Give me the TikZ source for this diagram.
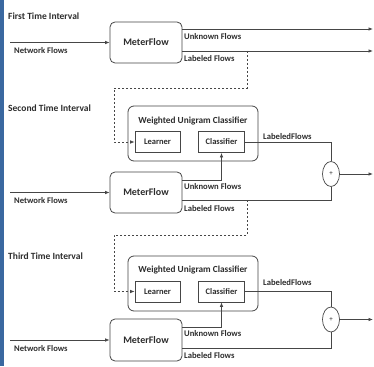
\documentclass[tikz,border=0pt]{standalone}
\usepackage{fontspec}
\setmainfont{Carlito}
\usetikzlibrary{arrows.meta,shapes.geometric}
\definecolor{edgeblue}{RGB}{58,104,160}
\definecolor{ink}{RGB}{45,45,45}
\definecolor{wire}{RGB}{70,70,70}
\begin{document}
\begin{tikzpicture}[x=1pt,y=-1pt,
  every node/.style={text=ink,font=\bfseries},
  heading/.style={anchor=west,inner sep=0pt,font=\bfseries\fontsize{9.5}{11}\selectfont},
  flowlabel/.style={anchor=west,inner sep=0pt,font=\bfseries\fontsize{8.6}{10}\selectfont},
  meterbox/.style={draw=wire,line width=0.8pt,rounded corners=5pt,minimum width=72pt,minimum height=41pt,inner sep=0pt,font=\bfseries\fontsize{10}{12}\selectfont},
  classbox/.style={draw=wire,line width=0.8pt,rounded corners=6pt,minimum width=130pt,minimum height=55pt,inner sep=0pt},
  boxtitle/.style={inner sep=0pt,font=\bfseries\fontsize{9.3}{11}\selectfont},
  innerbox/.style={draw=wire,line width=0.8pt,minimum height=21pt,inner sep=0pt,font=\bfseries\fontsize{8.5}{10}\selectfont},
  summer/.style={draw=wire,line width=0.7pt,ellipse,minimum width=17pt,minimum height=25pt,inner sep=0pt,font=\fontsize{7}{8}\selectfont},
  flow/.style={draw=wire,line width=0.8pt},
  arr/.style={flow,-{Latex[length=4.5pt,width=3.6pt]}},
  feedback/.style={draw=wire,line width=0.8pt,dash pattern=on 2.4pt off 1.6pt,-{Latex[length=4.5pt,width=3.6pt]}}
]
\useasboundingbox (0,0) rectangle (374,366);
\fill[white] (0,0) rectangle (374,366);
\fill[edgeblue] (0,0) rectangle (4,366);

% ---------- first time interval ----------
\node[heading] (h1) at (8,16.5) {First Time Interval};
\node[meterbox] (mf1) at (146,42.5) {MeterFlow};
\coordinate (in1) at (10,42.5);
\coordinate (o1u) at (373,29);
\coordinate (o1l) at (373,51);
\draw[arr] (in1) -- (mf1.west);
\node[flowlabel] (nf1) at (14,51) {Network Flows};
\draw[arr] ([yshift=13.5pt]mf1.east) -- (o1u);
\draw[arr] ([yshift=-8.5pt]mf1.east) -- (o1l);
\node[flowlabel] (uf1) at (184,36.5) {Unknown Flows};
\node[flowlabel] (lf1) at (184,59) {Labeled Flows};

% ---------- second time interval ----------
\node[heading] (h2) at (8,108) {Second Time Interval};
\node[classbox] (wuc2) at (193,133.5) {};
\node[boxtitle] (t2) at (193,121) {Weighted Unigram Classifier};
\node[innerbox,minimum width=45pt] (lrn2) at (157.5,142) {Learner};
\node[innerbox,minimum width=46pt] (cls2) at (221.5,142) {Classifier};
\node[summer] (sum2) at (331,174) {+};
\node[meterbox] (mf2) at (146,192.5) {MeterFlow};
\coordinate (in2) at (10,192.5);
\coordinate (o2) at (373,174);
\draw[arr] (in2) -- (mf2.west);
\node[flowlabel] (nf2) at (14,200.5) {Network Flows};
\draw[arr] ([yshift=12.5pt]mf2.east) -| (cls2.south);
\draw[flow] ([yshift=-7.5pt]mf2.east) -| (sum2.south);
\draw[flow] (cls2.east) -| (sum2.north);
\draw[arr] (sum2.east) -- (o2);
\node[flowlabel] (uf2) at (184,187) {Unknown Flows};
\node[flowlabel] (lf2) at (184,208.5) {Labeled Flows};
\node[flowlabel] (cf2) at (263,136.5) {LabeledFlows};

% labeled flows of the first interval train the second learner
\coordinate (d1) at (247,51);
\coordinate (k1) at (114,88);
\draw[feedback] (d1) |- (k1) |- (lrn2.west);

% ---------- third time interval ----------
\node[heading] (h3) at (8,256) {Third Time Interval};
\node[classbox] (wuc3) at (193,283.5) {};
\node[boxtitle] (t3) at (193,270.5) {Weighted Unigram Classifier};
\node[innerbox,minimum width=45pt] (lrn3) at (157.5,291.5) {Learner};
\node[innerbox,minimum width=46pt] (cls3) at (221.5,291.5) {Classifier};
\node[summer] (sum3) at (331,319.5) {+};
\node[meterbox,minimum height=42pt] (mf3) at (146,340) {MeterFlow};
\coordinate (in3) at (10,340);
\coordinate (o3) at (373,319.5);
\draw[arr] (in3) -- (mf3.west);
\node[flowlabel] (nf3) at (14,349) {Network Flows};
\draw[arr] ([yshift=13pt]mf3.east) -| (cls3.south);
\draw[flow] ([yshift=-8pt]mf3.east) -| (sum3.south);
\draw[flow] (cls3.east) -| (sum3.north);
\draw[arr] (sum3.east) -- (o3);
\node[flowlabel] (uf3) at (184,333.5) {Unknown Flows};
\node[flowlabel] (lf3) at (184,355.5) {Labeled Flows};
\node[flowlabel] (cf3) at (263,283) {LabeledFlows};

% labeled flows of the second interval train the third learner
\coordinate (d2) at (247,200);
\coordinate (k2) at (114,235);
\draw[feedback] (d2) |- (k2) |- (lrn3.west);
\end{tikzpicture}
\end{document}
